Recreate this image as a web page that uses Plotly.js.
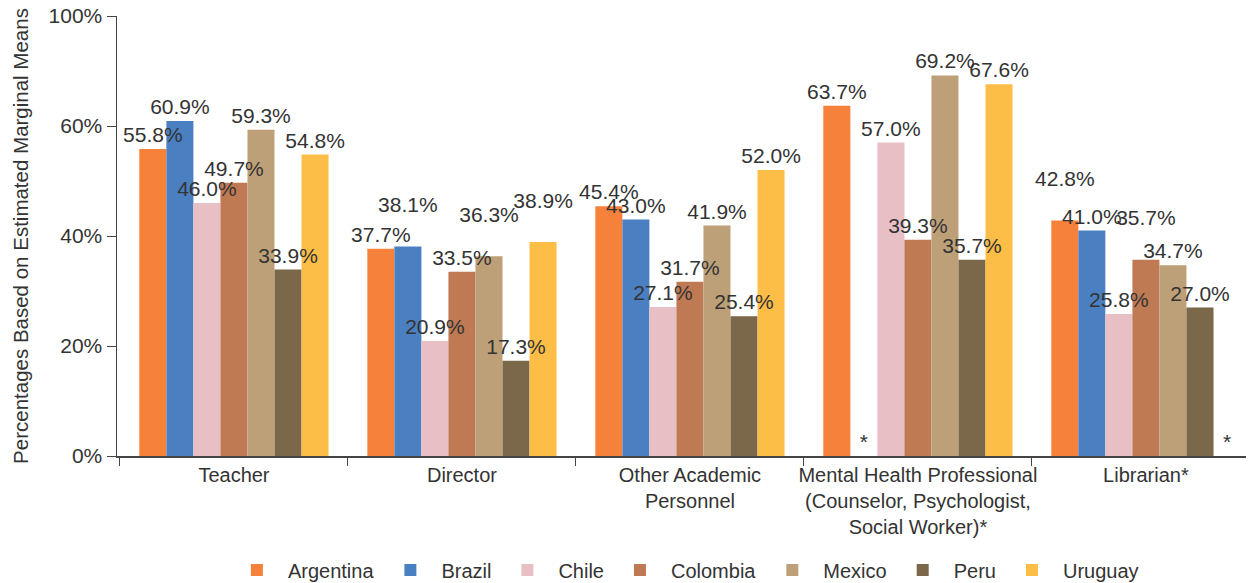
<!DOCTYPE html>
<html><head><meta charset="utf-8">
<script src="https://cdn.plot.ly/plotly-3.0.1.min.js"></script>
<style>html,body{margin:0;padding:0;background:#fff}</style>
</head><body><div id="chart" style="width:1249px;height:583px"></div>
<script>
const categories = ["Teacher", "Director", "Other Academic<br>Personnel", "Mental Health Professional<br>(Counselor, Psychologist,<br>Social Worker)*", "Librarian*"];
const countries = ["Argentina", "Brazil", "Chile", "Colombia", "Mexico", "Peru", "Uruguay"];
// null = not reported (shown as "*")
const argentina = [55.8, 37.7, 45.4, 63.7, 42.8];
const brazil    = [60.9, 38.1, 43.0, null, 41.0];
const chile     = [46.0, 20.9, 27.1, 57.0, 25.8];
const colombia  = [49.7, 33.5, 31.7, 39.3, 35.7];
const mexico    = [59.3, 36.3, 41.9, 69.2, 34.7];
const peru      = [33.9, 17.3, 25.4, 35.7, 27.0];
const uruguay   = [54.8, 38.9, 52.0, 67.6, null];
const seriesValues = [argentina, brazil, chile, colombia, mexico, peru, uruguay];
const colors = ["#F5813A", "#4A80C2", "#E8BFC4", "#C07A53", "#BDA078", "#7B6749", "#FDBE48"];
const yTickVals = [0, 20, 40, 60, 80];
const yTickText = ["0%", "20%", "40%", "60%", "100%"];
// labels raised one line in the original to avoid collisions: [series, category]
const raisedLabels = [[1, 1], [4, 1], [6, 1], [0, 4], [3, 4]];

const FONT = "Liberation Sans, Arial, sans-serif";
const TXT = "#333333";

const barTraces = countries.map((name, i) => ({
  type: "bar",
  name: name,
  x: categories,
  y: seriesValues[i].map(v => v === null ? 0 : v),
  offsetgroup: "g" + i,
  marker: {color: colors[i]},
  hoverinfo: "skip"
}));

// text-only overlay traces so every label sits above all bars
const labelTraces = countries.map((name, i) => {
  const vals = seriesValues[i];
  return {
    type: "bar",
    name: name + " labels",
    showlegend: false,
    x: categories,
    y: vals.map(v => v === null ? 0 : v),
    offsetgroup: "g" + i,
    text: vals.map((v, j) => {
      if (v === null) return "*";
      const raised = raisedLabels.some(p => p[0] === i && p[1] === j);
      return v.toFixed(1) + "%" + (raised ? "<br> " : "");
    }),
    textposition: "outside",
    constraintext: "none",
    cliponaxis: false,
    textfont: {family: FONT, size: 21, color: TXT},
    marker: {color: "rgba(0,0,0,0)"},
    hoverinfo: "skip"
  };
});

const layout = {
  width: 1249, height: 583,
  margin: {l: 117, r: 3, t: 16, b: 127, autoexpand: false},
  paper_bgcolor: "#fff", plot_bgcolor: "#fff",
  barmode: "group", bargap: 0.17, bargroupgap: 0,
  font: {family: FONT, size: 20, color: TXT},
  xaxis: {
    type: "category",
    range: [-0.513, 4.439],
    showline: true, linecolor: "#444", linewidth: 1.5,
    ticks: "outside", tickson: "boundaries", ticklen: 8, tickcolor: "#444",
    tickangle: 0,
    tickfont: {family: FONT, size: 20, color: TXT},
    showgrid: false, automargin: false
  },
  yaxis: {
    range: [0, 80],
    tickvals: yTickVals, ticktext: yTickText,
    showline: true, linecolor: "#444", linewidth: 1.5,
    ticks: "outside", ticklen: 9, tickcolor: "#444",
    tickfont: {family: FONT, size: 21, color: TXT},
    showgrid: false, zeroline: false, automargin: false,
    title: {text: "Percentages Based on Estimated Marginal Means", font: {family: FONT, size: 20.5, color: TXT}, standoff: 14}
  },
  showlegend: true,
  legend: {orientation: "h", x: 0.503, xanchor: "center", y: -0.259, yanchor: "middle",
           font: {family: FONT, size: 20, color: TXT}, itemwidth: 52, traceorder: "normal"}
};
Plotly.newPlot("chart", barTraces.concat(labelTraces), layout, {displayModeBar: false, staticPlot: true});
</script></body></html>
